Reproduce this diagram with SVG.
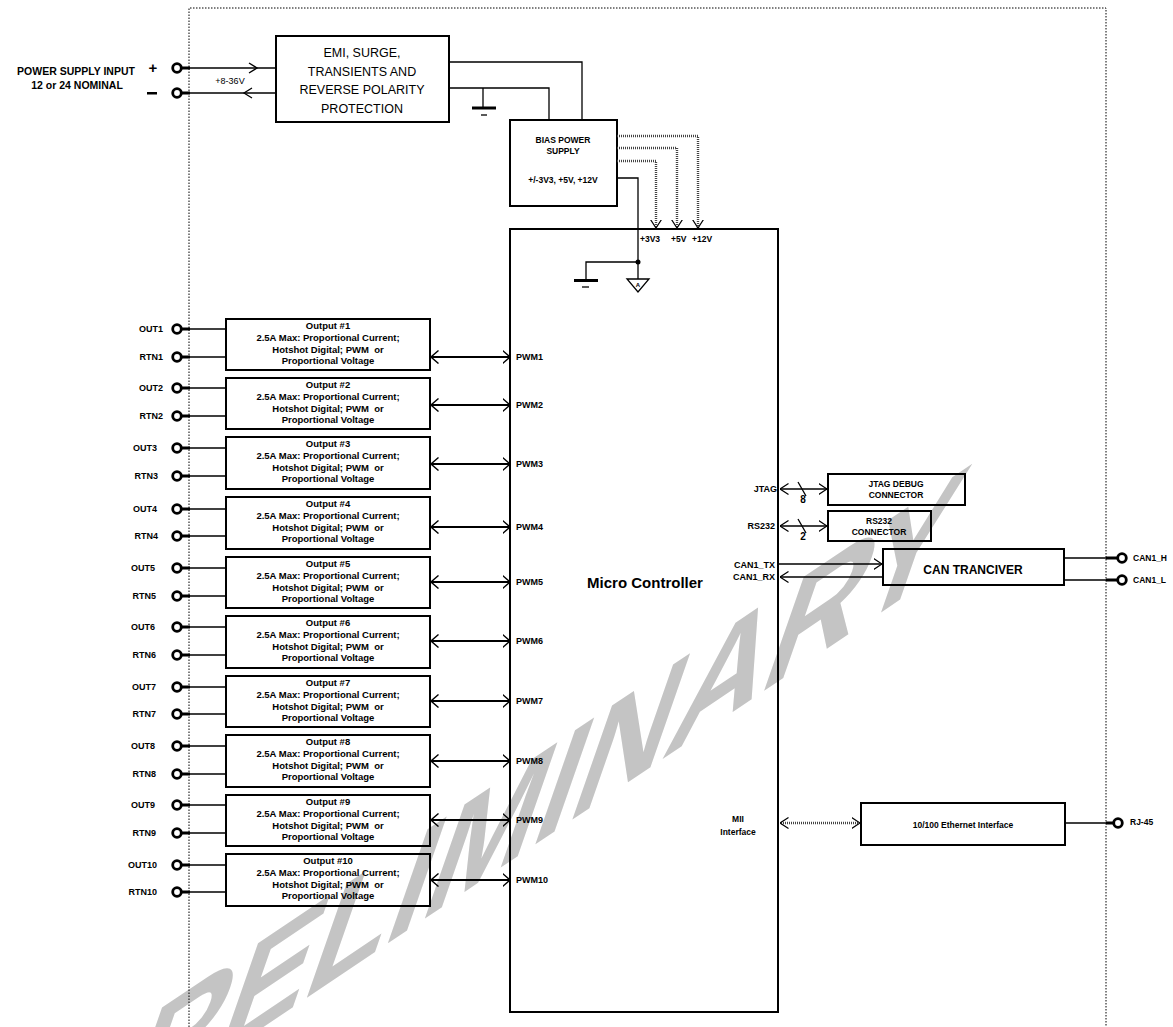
<svg xmlns="http://www.w3.org/2000/svg" width="1173" height="1027" viewBox="0 0 1173 1027">
<defs>
<style>
.b{font-family:"Liberation Sans",Arial,sans-serif;font-weight:bold;fill:#000}
.r{font-family:"Liberation Sans",Arial,sans-serif;fill:#000}
.box{fill:none;stroke:#000;stroke-width:2}
.ln{fill:none;stroke:#000;stroke-width:1.3}
.ar{fill:none;stroke:#000;stroke-width:2}
.hatch{fill:none;stroke:#444;stroke-width:2.4;stroke-dasharray:1 1}
.term{fill:#fff;stroke:#000;stroke-width:2.8}
.stub{stroke:#000;stroke-width:3}
.wm{font-family:"Liberation Sans",Arial,sans-serif;font-weight:bold;fill:#c4c4c4}
</style>
<marker id="ch" markerUnits="userSpaceOnUse" viewBox="0 0 8 14" refX="7.5" refY="7" markerWidth="8" markerHeight="14" orient="auto-start-reverse"><path d="M0,0.5 L7.5,7 L0,13.5" fill="none" stroke="#000" stroke-width="1.4"/></marker>
<marker id="cm" markerUnits="userSpaceOnUse" viewBox="0 0 9 12" refX="8.5" refY="6" markerWidth="9" markerHeight="12" orient="auto-start-reverse"><path d="M0,0.5 L8.5,6 L0,11.5" fill="none" stroke="#000" stroke-width="1.2"/></marker>
</defs>
<rect width="1173" height="1027" fill="#fff"/>

<g id="watermark">
<text class="wm" font-size="144" transform="matrix(0.922,-0.619,-0.4,1.15,25,1187)">PRELIMINARY</text>
</g>

<g id="enclosure">
<path d="M189,1027 V8 H1106 V1027" fill="none" stroke="#000" stroke-width="1" stroke-dasharray="1.5 1.5"/>
</g>

<g id="power-input">
<text class="b" font-size="10.5" x="76" y="75" text-anchor="middle">POWER SUPPLY INPUT</text>
<text class="b" font-size="10.5" x="77" y="89" text-anchor="middle">12 or 24 NOMINAL</text>
<text class="b" font-size="15" x="153" y="73" text-anchor="middle">+</text>
<rect x="147" y="92" width="10" height="2.5" fill="#000"/>
<circle class="term" cx="177" cy="68" r="4.3"/>
<circle class="term" cx="177" cy="93" r="4.3"/>
<line class="stub" x1="181" y1="68" x2="190" y2="68"/>
<line class="stub" x1="181" y1="93" x2="190" y2="93"/>
<text class="r" font-size="9" x="230" y="84" text-anchor="middle">+8-36V</text>
</g>

<g id="emi">
<rect class="box" x="276" y="36" width="173" height="86"/>
<g class="r" font-size="12.5" text-anchor="middle">
<text x="362" y="57">EMI, SURGE,</text>
<text x="362" y="76">TRANSIENTS AND</text>
<text x="362" y="94">REVERSE POLARITY</text>
<text x="362" y="113">PROTECTION</text>
</g>
</g>

<g id="ground1">
<line x1="483" y1="88" x2="483" y2="107" stroke="#000" stroke-width="1.3"/>
<line x1="472" y1="108" x2="496" y2="108" stroke="#000" stroke-width="3"/>
<line x1="481" y1="115" x2="487" y2="115" stroke="#000" stroke-width="1.3"/>
</g>

<g id="bias">
<rect class="box" x="510" y="120" width="107" height="86"/>
<g class="b" font-size="8.5" text-anchor="middle">
<text x="563" y="143">BIAS POWER</text>
<text x="563" y="154">SUPPLY</text>
<text x="563" y="183">+/-3V3, +5V, +12V</text>
</g>
</g>

<g id="mc">
<rect class="box" x="510" y="229" width="268" height="783"/>
<text class="b" font-size="15" x="645" y="588" text-anchor="middle">Micro Controller</text>
<g class="b" font-size="8.5">
<text x="640" y="242">+3V3</text>
<text x="671" y="242">+5V</text>
<text x="692" y="242">+12V</text>
</g>
<g class="b" font-size="9">
<text x="516" y="360">PWM1</text>
<text x="516" y="408">PWM2</text>
<text x="516" y="467">PWM3</text>
<text x="516" y="530">PWM4</text>
<text x="516" y="585">PWM5</text>
<text x="516" y="644">PWM6</text>
<text x="516" y="704">PWM7</text>
<text x="516" y="764">PWM8</text>
<text x="516" y="823">PWM9</text>
<text x="516" y="883">PWM10</text>
<text x="777" y="492" text-anchor="end">JTAG</text>
<text x="775" y="529" text-anchor="end">RS232</text>
<text x="775" y="568" text-anchor="end">CAN1_TX</text>
<text x="775" y="580" text-anchor="end">CAN1_RX</text>
</g>
<g class="b" font-size="8.5" text-anchor="middle">
<text x="738" y="822">MII</text>
<text x="738" y="835">Interface</text>
</g>
<circle cx="638" cy="262" r="2.5" fill="#000"/>
<path d="M638,262 H586 V280" class="ln"/>
<line x1="574" y1="280.5" x2="598" y2="280.5" stroke="#000" stroke-width="3"/>
<line x1="582" y1="287" x2="589" y2="287" stroke="#000" stroke-width="1.3"/>
<polygon points="627,279 649,279 638,292" fill="#fff" stroke="#000" stroke-width="1.3"/>
<text class="b" font-size="6" x="638" y="287" text-anchor="middle">A</text>
</g>

<g id="outputs">
<g class="b" font-size="9.5" text-anchor="middle">
<rect class="box" x="226" y="319" width="204" height="51"/>
<text x="328" y="329">Output #1</text><text x="328" y="341">2.5A Max: Proportional Current;</text><text x="328" y="352.5">Hotshot Digital; PWM&#160; or</text><text x="328" y="364">Proportional Voltage</text>
<rect class="box" x="226" y="378" width="204" height="51"/>
<text x="328" y="388">Output #2</text><text x="328" y="400">2.5A Max: Proportional Current;</text><text x="328" y="411.5">Hotshot Digital; PWM&#160; or</text><text x="328" y="423">Proportional Voltage</text>
<rect class="box" x="226" y="437" width="204" height="52"/>
<text x="328" y="447">Output #3</text><text x="328" y="459">2.5A Max: Proportional Current;</text><text x="328" y="470.5">Hotshot Digital; PWM&#160; or</text><text x="328" y="482">Proportional Voltage</text>
<rect class="box" x="226" y="497" width="204" height="52"/>
<text x="328" y="507">Output #4</text><text x="328" y="519">2.5A Max: Proportional Current;</text><text x="328" y="530.5">Hotshot Digital; PWM&#160; or</text><text x="328" y="542">Proportional Voltage</text>
<rect class="box" x="226" y="557" width="204" height="51"/>
<text x="328" y="567">Output #5</text><text x="328" y="579">2.5A Max: Proportional Current;</text><text x="328" y="590.5">Hotshot Digital; PWM&#160; or</text><text x="328" y="602">Proportional Voltage</text>
<rect class="box" x="226" y="616" width="204" height="52"/>
<text x="328" y="626">Output #6</text><text x="328" y="638">2.5A Max: Proportional Current;</text><text x="328" y="649.5">Hotshot Digital; PWM&#160; or</text><text x="328" y="661">Proportional Voltage</text>
<rect class="box" x="226" y="676" width="204" height="51"/>
<text x="328" y="686">Output #7</text><text x="328" y="698">2.5A Max: Proportional Current;</text><text x="328" y="709.5">Hotshot Digital; PWM&#160; or</text><text x="328" y="721">Proportional Voltage</text>
<rect class="box" x="226" y="735" width="204" height="52"/>
<text x="328" y="745">Output #8</text><text x="328" y="757">2.5A Max: Proportional Current;</text><text x="328" y="768.5">Hotshot Digital; PWM&#160; or</text><text x="328" y="780">Proportional Voltage</text>
<rect class="box" x="226" y="795" width="204" height="51"/>
<text x="328" y="805">Output #9</text><text x="328" y="817">2.5A Max: Proportional Current;</text><text x="328" y="828.5">Hotshot Digital; PWM&#160; or</text><text x="328" y="840">Proportional Voltage</text>
<rect class="box" x="226" y="854" width="204" height="52"/>
<text x="328" y="864">Output #10</text><text x="328" y="876">2.5A Max: Proportional Current;</text><text x="328" y="887.5">Hotshot Digital; PWM&#160; or</text><text x="328" y="899">Proportional Voltage</text>
</g>
</g>

<g id="output-terminals">
<g class="b" font-size="9" text-anchor="end">
<text x="163" y="332">OUT1</text><text x="163" y="360">RTN1</text>
<text x="163" y="391">OUT2</text><text x="163" y="419">RTN2</text>
<text x="157" y="451">OUT3</text><text x="158" y="479">RTN3</text>
<text x="157" y="512">OUT4</text><text x="158" y="539">RTN4</text>
<text x="155" y="571">OUT5</text><text x="156" y="599">RTN5</text>
<text x="155" y="630">OUT6</text><text x="156" y="658">RTN6</text>
<text x="156" y="690">OUT7</text><text x="156" y="717">RTN7</text>
<text x="155" y="749">OUT8</text><text x="156" y="777">RTN8</text>
<text x="155" y="808">OUT9</text><text x="156" y="836">RTN9</text>
<text x="157" y="868">OUT10</text><text x="157" y="895">RTN10</text>
</g>
<g>
<circle class="term" cx="177" cy="329" r="4.3"/><circle class="term" cx="177" cy="357" r="4.3"/>
<circle class="term" cx="177" cy="388" r="4.3"/><circle class="term" cx="177" cy="416" r="4.3"/>
<circle class="term" cx="177" cy="448" r="4.3"/><circle class="term" cx="177" cy="476" r="4.3"/>
<circle class="term" cx="177" cy="509" r="4.3"/><circle class="term" cx="177" cy="536" r="4.3"/>
<circle class="term" cx="177" cy="568" r="4.3"/><circle class="term" cx="177" cy="596" r="4.3"/>
<circle class="term" cx="177" cy="627" r="4.3"/><circle class="term" cx="177" cy="655" r="4.3"/>
<circle class="term" cx="177" cy="687" r="4.3"/><circle class="term" cx="177" cy="714" r="4.3"/>
<circle class="term" cx="177" cy="746" r="4.3"/><circle class="term" cx="177" cy="774" r="4.3"/>
<circle class="term" cx="177" cy="805" r="4.3"/><circle class="term" cx="177" cy="833" r="4.3"/>
<circle class="term" cx="177" cy="865" r="4.3"/><circle class="term" cx="177" cy="892" r="4.3"/>
</g>
</g>

<g id="jtag">
<rect class="box" x="828" y="474" width="137" height="31"/>
<g class="b" font-size="8.5" text-anchor="middle"><text x="896" y="487">JTAG DEBUG</text><text x="896" y="498">CONNECTOR</text></g>
</g>
<g id="rs232">
<rect class="box" x="828" y="511" width="103" height="30"/>
<g class="b" font-size="8.5" text-anchor="middle"><text x="879" y="524">RS232</text><text x="879" y="535">CONNECTOR</text></g>
</g>
<g id="can">
<rect class="box" x="883" y="549" width="181" height="36"/>
<text class="b" font-size="12" x="973" y="574" text-anchor="middle">CAN TRANCIVER</text>
</g>
<g id="ethernet">
<rect class="box" x="861" y="803" width="204" height="42"/>
<text class="b" font-size="8.5" x="963" y="828" text-anchor="middle">10/100 Ethernet Interface</text>
</g>

<g id="right-terminals">
<line class="stub" x1="1106" y1="558" x2="1118" y2="558"/>
<circle class="term" cx="1122" cy="558" r="4.3"/>
<text class="b" font-size="8.5" x="1133" y="561">CAN1_H</text>
<line class="stub" x1="1106" y1="580" x2="1118" y2="580"/>
<circle class="term" cx="1122" cy="580" r="4.3"/>
<text class="b" font-size="8.5" x="1133" y="583">CAN1_L</text>
<line class="stub" x1="1106" y1="823" x2="1114" y2="823"/>
<circle class="term" cx="1118" cy="823" r="4.3"/>
<text class="b" font-size="8.5" x="1130" y="825">RJ-45</text>
</g>

<g id="connectors">
<line class="ln" x1="181" y1="68" x2="276" y2="68"/>
<line class="ln" x1="181" y1="93" x2="276" y2="93"/>
<path class="ln" d="M249,63 L257,68 L249,73"/>
<path class="ln" d="M252,88 L244,93 L252,98"/>
<path class="ln" d="M449,62 H582 V120"/>
<path class="ln" d="M449,88 H549 V120"/>
<path class="hatch" d="M617,136 H698 V228" marker-end="url(#cm)"/>
<path class="hatch" d="M617,148 H677 V228" marker-end="url(#cm)"/>
<path class="hatch" d="M617,161 H656 V228" marker-end="url(#cm)"/>
<path class="ln" d="M617,178 H638 V279"/>
<g class="ln">
<line x1="181" y1="329" x2="226" y2="329"/><line x1="181" y1="357" x2="226" y2="357"/>
<line x1="181" y1="388" x2="226" y2="388"/><line x1="181" y1="416" x2="226" y2="416"/>
<line x1="181" y1="448" x2="226" y2="448"/><line x1="181" y1="476" x2="226" y2="476"/>
<line x1="181" y1="509" x2="226" y2="509"/><line x1="181" y1="536" x2="226" y2="536"/>
<line x1="181" y1="568" x2="226" y2="568"/><line x1="181" y1="596" x2="226" y2="596"/>
<line x1="181" y1="627" x2="226" y2="627"/><line x1="181" y1="655" x2="226" y2="655"/>
<line x1="181" y1="687" x2="226" y2="687"/><line x1="181" y1="714" x2="226" y2="714"/>
<line x1="181" y1="746" x2="226" y2="746"/><line x1="181" y1="774" x2="226" y2="774"/>
<line x1="181" y1="805" x2="226" y2="805"/><line x1="181" y1="833" x2="226" y2="833"/>
<line x1="181" y1="865" x2="226" y2="865"/><line x1="181" y1="892" x2="226" y2="892"/>
</g>
<g class="stub">
<line x1="181" y1="329" x2="190" y2="329"/><line x1="181" y1="357" x2="190" y2="357"/>
<line x1="181" y1="388" x2="190" y2="388"/><line x1="181" y1="416" x2="190" y2="416"/>
<line x1="181" y1="448" x2="190" y2="448"/><line x1="181" y1="476" x2="190" y2="476"/>
<line x1="181" y1="509" x2="190" y2="509"/><line x1="181" y1="536" x2="190" y2="536"/>
<line x1="181" y1="568" x2="190" y2="568"/><line x1="181" y1="596" x2="190" y2="596"/>
<line x1="181" y1="627" x2="190" y2="627"/><line x1="181" y1="655" x2="190" y2="655"/>
<line x1="181" y1="687" x2="190" y2="687"/><line x1="181" y1="714" x2="190" y2="714"/>
<line x1="181" y1="746" x2="190" y2="746"/><line x1="181" y1="774" x2="190" y2="774"/>
<line x1="181" y1="805" x2="190" y2="805"/><line x1="181" y1="833" x2="190" y2="833"/>
<line x1="181" y1="865" x2="190" y2="865"/><line x1="181" y1="892" x2="190" y2="892"/>
</g>
<g class="ar" marker-start="url(#ch)" marker-end="url(#ch)">
<line x1="431" y1="357" x2="510" y2="357"/>
<line x1="431" y1="405" x2="510" y2="405"/>
<line x1="431" y1="464" x2="510" y2="464"/>
<line x1="431" y1="527" x2="510" y2="527"/>
<line x1="431" y1="582" x2="510" y2="582"/>
<line x1="431" y1="641" x2="510" y2="641"/>
<line x1="431" y1="701" x2="510" y2="701"/>
<line x1="431" y1="761" x2="510" y2="761"/>
<line x1="431" y1="820" x2="510" y2="820"/>
<line x1="431" y1="880" x2="510" y2="880"/>
</g>
<line class="ln" x1="780" y1="489" x2="827" y2="489" marker-start="url(#cm)" marker-end="url(#cm)"/>
<line class="ln" x1="798" y1="482" x2="806" y2="496"/>
<text class="b" font-size="10" x="803" y="503" text-anchor="middle">8</text>
<line class="ln" x1="780" y1="526" x2="827" y2="526" marker-start="url(#cm)" marker-end="url(#cm)"/>
<line class="ln" x1="798" y1="519" x2="806" y2="533"/>
<text class="b" font-size="10" x="803" y="540" text-anchor="middle">2</text>
<line class="ln" x1="779" y1="564" x2="882" y2="564" marker-end="url(#cm)"/>
<line class="ln" x1="883" y1="577" x2="780" y2="577" marker-end="url(#cm)"/>
<line class="ln" x1="1064" y1="558" x2="1106" y2="558"/>
<line class="ln" x1="1064" y1="580" x2="1106" y2="580"/>
<line class="hatch" x1="781" y1="823" x2="859" y2="823"/>
<line x1="780" y1="823" x2="860" y2="823" stroke="none" marker-start="url(#cm)" marker-end="url(#cm)"/>
<line class="ln" x1="1065" y1="823" x2="1106" y2="823"/>
</g>
</svg>
